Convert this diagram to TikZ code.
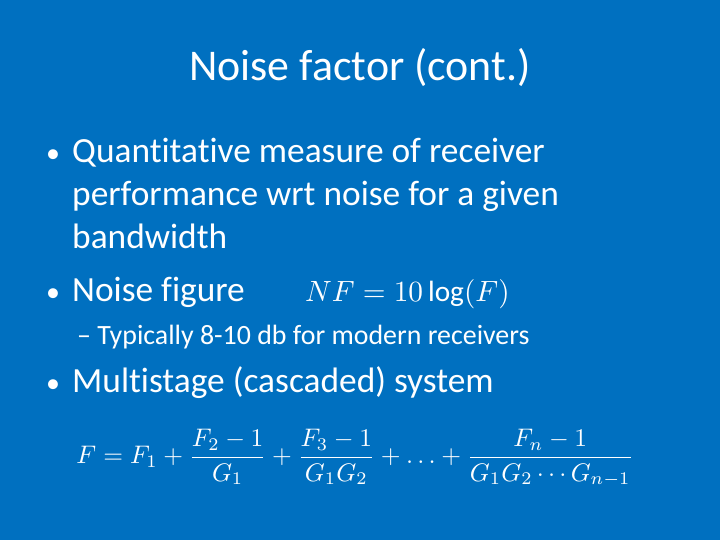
\documentclass[tikz,border=0pt]{standalone}
\usepackage{amsmath}
\usepackage{graphicx}
\usepackage{fontspec}
\setmainfont{Carlito}[Ligatures=NoCommon]
\definecolor{slidebg}{RGB}{0,112,192}
\begin{document}
\begin{tikzpicture}[x=1bp,y=-1bp,
  body/.style={anchor=base west,inner sep=0,text=white,font=\fontsize{35.5}{40}\selectfont},
  bul/.style={anchor=base west,inner sep=0,text=white,font=\fontsize{28}{32}\selectfont},
  sub/.style={anchor=base west,inner sep=0,text=white,font=\fontsize{28}{32}\selectfont},
  eq/.style={inner sep=0,text=white}]
\fill[slidebg] (0,0) rectangle (720,540);
\useasboundingbox (0,0) rectangle (720,540);
\node[inner sep=0,text=white,font=\fontsize{44}{48}\selectfont,anchor=base] (title) at (360,81) {Noise factor (cont.)};
\node[bul] (b1) at (46,163) {•};
\node[body] (t1a) at (72,163) {Quantitative measure of receiver};
\node[body] (t1b) at (72,206) {performance wrt noise for a given};
\node[body] (t1c) at (72,249) {bandwidth};
\node[bul] (b2) at (46,301) {•};
\node[body] (t2) at (72,301) {Noise figure};
\node[eq,anchor=base west] (nf) at (305,301) {\scalebox{2.94}{$NF=10\,\mathrm{log}(F)$}};
\node[sub] (s1) at (77,344) {– Typically 8-10 db for modern receivers};
\node[bul] (b3) at (46,392) {•};
\node[body] (t3) at (72,392) {Multistage (cascaded) system};
\node[eq] (casc) at (355,458)
 {\scalebox{2.55}{$F=F_1+\dfrac{F_2-1}{G_1}+\dfrac{F_3-1}{G_1G_2}+\ldots+\dfrac{F_n-1}{G_1G_2\cdots G_{n-1}}$}};
\end{tikzpicture}
\end{document}
